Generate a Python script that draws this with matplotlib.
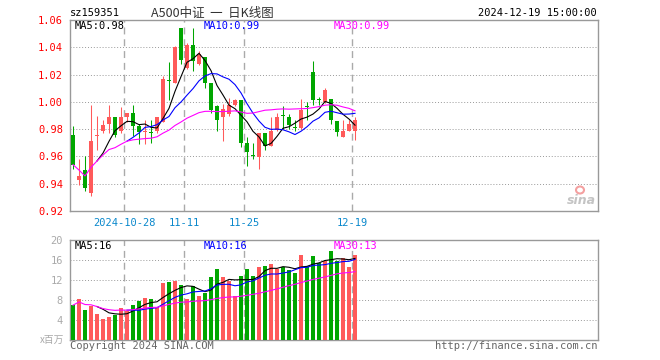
import matplotlib
matplotlib.use('Agg')
import matplotlib.pyplot as plt
from matplotlib.patches import Ellipse
import numpy as np
import pandas as pd

# dados diarios (48 pregoes, 2024-10-15 .. 2024-12-19)
opens = [0.976, 0.943, 0.950, 0.933, 0.975, 0.979, 0.984, 0.989, 0.979, 0.989,
         0.992, 0.982, 0.978, 0.9775, 0.979, 0.985, 1.0152, 1.014, 1.0545, 1.025,
         1.042, 1.028, 1.033, 1.014, 0.9967, 0.989, 0.991, 0.998, 1.001, 0.9696,
         0.9602, 0.9596, 0.9775, 0.968, 0.9795, 0.990, 0.989, 0.9814, 0.981, 0.9962,
         1.022, 1.0016, 1.000, 1.002, 0.986, 0.9746, 0.979, 0.979]
highs = [0.982, 0.958, 0.960, 0.998, 0.990, 0.987, 0.998, 0.989, 0.996, 0.992,
         0.998, 0.984, 0.987, 0.987, 0.989, 1.019, 1.029, 1.041, 1.0545, 1.043,
         1.0545, 1.037, 1.033, 1.014, 0.998, 0.9985, 1.0026, 1.002, 1.001, 0.974,
         0.9696, 0.9775, 0.9775, 0.989, 0.9915, 0.997, 0.991, 0.9866, 1.002, 1.000,
         1.030, 1.0038, 1.010, 1.002, 0.986, 0.9866, 0.9866, 0.9886]
lows = [0.951, 0.939, 0.935, 0.931, 0.965, 0.977, 0.977, 0.974, 0.977, 0.985,
        0.975, 0.969, 0.969, 0.970, 0.977, 0.985, 1.001, 1.014, 1.0275, 1.024,
        1.0225, 1.027, 1.0105, 0.9915, 0.979, 0.971, 0.990, 0.997, 0.967, 0.953,
        0.958, 0.9505, 0.965, 0.9677, 0.979, 0.980, 0.980, 0.9787, 0.980, 0.9866,
        0.998, 0.9977, 0.999, 0.984, 0.975, 0.9746, 0.979, 0.972]
closes = [0.954, 0.946, 0.937, 0.971, 0.9753, 0.983, 0.989, 0.976, 0.989, 0.9915,
          0.982, 0.978, 0.9782, 0.977, 0.989, 1.017, 1.015, 1.0405, 1.031, 1.0415,
          1.030, 1.035, 1.014, 0.994, 0.987, 0.995, 0.998, 1.001, 0.970, 0.963,
          0.960, 0.9775, 0.968, 0.979, 0.989, 0.9898, 0.983, 0.9812, 0.994, 0.996,
          1.001, 1.0014, 1.009, 0.987, 0.978, 0.979, 0.984, 0.9866]
volumes = [6.9, 8.2, 6.0, 6.8, 5.2, 4.2, 4.6, 5.0, 6.4, 5.7,
           7.0, 7.8, 8.4, 8.2, 6.5, 11.3, 11.6, 11.8, 11.0, 8.2,
           10.8, 8.8, 9.3, 12.6, 14.2, 12.5, 11.8, 8.8, 12.8, 14.2,
           12.8, 14.6, 14.8, 15.2, 14.1, 14.5, 14.0, 13.3, 17.0, 14.7,
           16.7, 15.3, 15.7, 17.8, 15.7, 16.4, 14.6, 17.0]

date_idx = [9, 19, 29, 47]
date_labels = ['2024-10-28', '11-11', '11-25', '12-19']
price_ticks = [0.92, 0.94, 0.96, 0.98, 1.00, 1.02, 1.04, 1.06]
vol_ticks = [4, 8, 12, 16, 20]

VERMELHO = '#ff5a5a'
VERDE = '#00a600'
CINZA = '#999999'

plt.rcParams['font.family'] = ['DejaVu Sans Mono']

W, H = 660, 360
fig = plt.figure(figsize=(6.6, 3.6), dpi=100)


def fx(px):
    return px / W


def fy(py):
    return 1 - py / H


ax = fig.add_axes([fx(70), fy(211), 528 / W, 191 / H])
axv = fig.add_axes([fx(70), fy(339.5), 528 / W, 99.5 / H])

o = np.array(opens)
h = np.array(highs)
l = np.array(lows)
c = np.array(closes)
v = np.array(volumes)
x = np.arange(len(c))
cores = np.where(c >= o, VERMELHO, VERDE)

# candles
ax.vlines(x, l, h, colors=cores, lw=0.75, zorder=2)
ax.bar(x, np.maximum(np.abs(c - o), 0.0007), bottom=np.minimum(o, c),
       width=0.8, color=cores, lw=0, zorder=3)

s = pd.Series(c)
ax.plot(x, s.rolling(5).mean(), color='black', lw=0.8, zorder=4)
ax.plot(x, s.rolling(10).mean(), color='#0000ff', lw=0.8, zorder=4)
ax.plot(x, s.rolling(30, min_periods=1).mean(), color='#ff00ff', lw=0.8, zorder=4)

# volume
axv.bar(x, v, width=0.8, color=cores, lw=0, zorder=3)
sv = pd.Series(v)
axv.plot(x, sv.rolling(5).mean(), color='black', lw=0.8, zorder=4)
axv.plot(x, sv.rolling(10).mean(), color='#0000ff', lw=0.8, zorder=4)
axv.plot(x, sv.rolling(30, min_periods=1).mean(), color='#ff00ff', lw=0.8, zorder=4)

for a in (ax, axv):
    a.set_xlim(-0.5, 87.5)
    for sp in a.spines.values():
        sp.set_color(CINZA)
        sp.set_linewidth(1.0)
    a.set_xticks([i - 0.5 for i in date_idx])
    a.grid(axis='x', color='#aaaaaa', lw=1.0, ls=(0, (5, 3.5)), zorder=1)
    a.tick_params(length=0)

ax.set_ylim(0.92, 1.06)
ax.set_yticks(price_ticks)
ax.set_yticklabels([f'{t:.2f}' for t in price_ticks])
ax.tick_params(axis='y', colors='red', labelsize=7.5, pad=5)
ax.set_xticklabels(date_labels)
ax.tick_params(axis='x', colors='#0a88cc', labelsize=7.5, pad=5)
for t in price_ticks[1:-1]:
    ax.axhline(t, color=CINZA, lw=0.7, ls=(0, (1, 2)), zorder=1)

axv.set_ylim(0, 20)
axv.set_yticks(vol_ticks)
axv.set_yticklabels([str(t) for t in vol_ticks])
axv.tick_params(axis='y', colors='#aaaaaa', labelsize=7.5, pad=5)
axv.set_xticklabels([])
for t in vol_ticks[:-1]:
    axv.axhline(t, color=CINZA, lw=0.7, ls=(0, (1, 2)), zorder=1)

# legendas das medias
ma_txt = dict(fontsize=7.5, va='center', ha='left')
fig.text(fx(75), fy(26), 'MA5:0.98', color='black', **ma_txt)
fig.text(fx(204), fy(26), 'MA10:0.99', color='#0000ff', **ma_txt)
fig.text(fx(334), fy(26), 'MA30:0.99', color='#ff00ff', **ma_txt)
fig.text(fx(75), fy(246), 'MA5:16', color='black', **ma_txt)
fig.text(fx(204), fy(246), 'MA10:16', color='#0000ff', **ma_txt)
fig.text(fx(334), fy(246), 'MA30:13', color='#ff00ff', **ma_txt)

# cabecalho
fig.text(fx(70), fy(13), 'sz159351', fontsize=7.5, va='center', ha='left', color='black')
fig.text(fx(151), fy(13), 'A500中证  一  日K线图', fontsize=9, va='center', ha='left',
         color='#333333', family=['Noto Sans CJK SC', 'DejaVu Sans'])
fig.text(fx(597), fy(13), '2024-12-19 15:00:00', fontsize=7.5, va='center', ha='right',
         color='black')

# rodape
fig.text(fx(64), fy(340), 'x百万', fontsize=7, va='center', ha='right', color='#aaaaaa',
         family=['Noto Sans CJK SC', 'DejaVu Sans'])
fig.text(fx(70), fy(346), 'Copyright 2024 SINA.COM', fontsize=7.5, va='center', ha='left',
         color='#666666')
fig.text(fx(597), fy(346), 'http://finance.sina.com.cn', fontsize=7.5, va='center',
         ha='right', color='#666666')

# marca sina
fig.text(fx(596), fy(200), 'sina', fontsize=9, style='italic', weight='bold', ha='right',
         va='center', color='#c4c4c4', family='DejaVu Sans')
fig.add_artist(Ellipse((fx(580), fy(190)), 8 / W, 7 / H, transform=fig.transFigure,
                       facecolor='none', edgecolor='#f4a0a0', lw=1.5))

fig.savefig('out.png', dpi=100)
